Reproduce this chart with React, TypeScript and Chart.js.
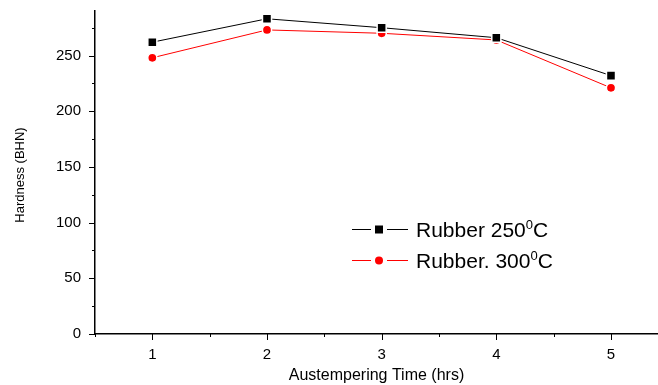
import React, { useEffect, useRef } from "react";
import { Chart, registerables } from "chart.js";

Chart.register(...registerables);

// ---- data ----
const times = [1, 2, 3, 4, 5];
const rubber250 = [262, 283, 275, 266, 232];
const rubber300 = [248, 273, 270, 264, 221];
const xTickValues = [1, 2, 3, 4, 5];
const xMinorTickValues = [0.5, 1.5, 2.5, 3.5, 4.5];
const yTickValues = [0, 50, 100, 150, 200, 250];
const yMinorTickValues = [25, 75, 125, 175, 225, 275];
const legendMain = ["Rubber 250", "Rubber. 300"];
const legendSup = ["0", "0"];
const legendUnit = ["C", "C"];
const xTitle = "Austempering Time (hrs)";
const yTitle = "Hardness (BHN)";

const FONT = "'Liberation Sans', Arial, sans-serif";

const decorPlugin = {
  id: "decor",
  afterDraw(chart: any) {
    const ctx = chart.ctx;
    const { left, bottom } = chart.chartArea;
    const xs = chart.scales.x;
    const ys = chart.scales.y;
    ctx.save();
    ctx.strokeStyle = "#000";
    ctx.lineWidth = 1;
    ctx.beginPath();
    yTickValues.forEach((v) => {
      const y = Math.round(ys.getPixelForValue(v)) + 0.5;
      ctx.moveTo(left - 6, y);
      ctx.lineTo(left, y);
    });
    yMinorTickValues.forEach((v) => {
      const y = Math.round(ys.getPixelForValue(v)) + 0.5;
      ctx.moveTo(left - 3, y);
      ctx.lineTo(left, y);
    });
    xTickValues.forEach((v) => {
      const x = Math.round(xs.getPixelForValue(v)) + 0.5;
      ctx.moveTo(x, bottom);
      ctx.lineTo(x, bottom + 6);
    });
    xMinorTickValues.forEach((v) => {
      const x = Math.round(xs.getPixelForValue(v)) + 0.5;
      ctx.moveTo(x, bottom);
      ctx.lineTo(x, bottom + 3);
    });
    ctx.stroke();

    // y title
    ctx.save();
    ctx.translate(20, 175);
    ctx.rotate(-Math.PI / 2);
    ctx.fillStyle = "#000";
    ctx.font = `13px ${FONT}`;
    ctx.textAlign = "center";
    ctx.textBaseline = "middle";
    ctx.fillText(yTitle, 0, 0);
    ctx.restore();

    // legend
    const rows = [229, 260];
    chart.data.datasets.forEach((ds: any, i: number) => {
      const cy = rows[i];
      ctx.strokeStyle = ds.borderColor;
      ctx.lineWidth = 1;
      ctx.beginPath();
      ctx.moveTo(352, cy + 0.5);
      ctx.lineTo(371, cy + 0.5);
      ctx.moveTo(387, cy + 0.5);
      ctx.lineTo(408, cy + 0.5);
      ctx.stroke();
      ctx.fillStyle = ds.pointBackgroundColor;
      ctx.beginPath();
      if (ds.pointStyle === "rect") {
        ctx.rect(375, cy - 3.5, 8, 8);
      } else {
        ctx.arc(379, cy + 0.5, 4, 0, Math.PI * 2);
      }
      ctx.fill();
      ctx.fillStyle = "#000";
      ctx.textAlign = "left";
      ctx.textBaseline = "alphabetic";
      ctx.font = `21px ${FONT}`;
      const base = cy + 8;
      let x = 416;
      ctx.fillText(legendMain[i], x, base);
      x += ctx.measureText(legendMain[i]).width;
      ctx.font = `13px ${FONT}`;
      ctx.fillText(legendSup[i], x, base - 8);
      x += ctx.measureText(legendSup[i]).width;
      ctx.font = `21px ${FONT}`;
      ctx.fillText(legendUnit[i], x, base);
    });
    ctx.restore();
  },
};

export default function App() {
  const ref = useRef<HTMLCanvasElement | null>(null);
  useEffect(() => {
    if (!ref.current) return;
    const chart = new Chart(ref.current, {
      type: "line",
      data: {
        datasets: [
          {
            label: "Rubber 250⁰C",
            data: times.map((t, i) => ({ x: t, y: rubber250[i] })),
            borderColor: "#000000",
            borderWidth: 1,
            pointStyle: "rect",
            pointRadius: 6.4,
            pointBackgroundColor: "#000000",
            pointBorderColor: "#ffffff",
            pointBorderWidth: 1.5,
            tension: 0,
          },
          {
            label: "Rubber. 300⁰C",
            data: times.map((t, i) => ({ x: t, y: rubber300[i] })),
            borderColor: "#ff0000",
            borderWidth: 1,
            pointStyle: "circle",
            pointRadius: 4.6,
            pointBackgroundColor: "#ff0000",
            pointBorderColor: "#ffffff",
            pointBorderWidth: 1.5,
            tension: 0,
          },
        ],
      },
      options: {
        animation: false,
        responsive: false,
        layout: { autoPadding: false, padding: { top: 11, right: 0, left: 0, bottom: 0 } },
        plugins: { legend: { display: false }, tooltip: { enabled: false } },
        scales: {
          x: {
            type: "linear",
            min: 0.5,
            max: 5.41,
            afterFit: (s: any) => {
              s.height = 51;
              s.paddingLeft = 0;
              s.paddingRight = 0;
            },
            afterBuildTicks: (s: any) => {
              s.ticks = xTickValues.map((v) => ({ value: v }));
            },
            grid: { display: false },
            border: { display: true, color: "#000", width: 1.5 },
            ticks: {
              color: "#000",
              font: { family: FONT, size: 15 },
              padding: 4,
              maxRotation: 0,
              autoSkip: false,
            },
            title: {
              display: true,
              text: xTitle,
              color: "#000",
              font: { family: FONT, size: 16 },
              padding: { top: 0, bottom: 0 },
            },
          },
          y: {
            type: "linear",
            min: 0,
            max: 290,
            afterFit: (s: any) => {
              s.width = 95;
              s.paddingTop = 0;
              s.paddingBottom = 0;
            },
            afterBuildTicks: (s: any) => {
              s.ticks = yTickValues.map((v) => ({ value: v }));
            },
            grid: { display: false },
            border: { display: true, color: "#000", width: 1.5 },
            ticks: {
              color: "#000",
              font: { family: FONT, size: 15 },
              padding: 6,
              autoSkip: false,
            },
          },
        },
      },
      plugins: [decorPlugin],
    });
    return () => chart.destroy();
  }, []);
  return (
    <div style={{ position: "fixed", left: 0, top: 0, width: 658, height: 385, background: "#fff" }}>
      <canvas ref={ref} width={658} height={385} />
    </div>
  );
}
